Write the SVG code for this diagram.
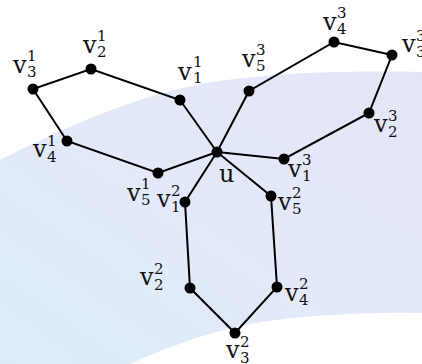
<svg xmlns="http://www.w3.org/2000/svg" width="422" height="364" viewBox="0 0 422 364">
  <defs>
    <linearGradient id="bandFill" x1="0" y1="1" x2="1" y2="0">
      <stop offset="0" stop-color="#dcedfa"/>
      <stop offset="0.5" stop-color="#e3e9f9"/>
      <stop offset="1" stop-color="#e4e6f8"/>
    </linearGradient>
    <style>
      .edge { stroke: #000; stroke-width: 2; fill: none; stroke-linecap: round; }
      .dot { fill: #000; }
      .lbl { font-family: "DejaVu Serif", "Liberation Serif", serif; font-size: 24px; fill: #111; }
      .i { font-size: 15px; }
    </style>
  </defs>

  <!-- page background and soft band -->
  <rect width="422" height="364" fill="#ffffff"/>
  <path d="M0,160 C40,140 120,100 200,84 C260,74 330,70 422,72 L422,313 C360,312 290,316 240,326 C200,335 160,350 130,364 L0,364 Z" fill="url(#bandFill)"/>

  <!-- connectors -->
  <g id="edges">
    <!-- first cycle through u -->
    <polyline class="edge" points="217,152 180,100 91,69 33,89 67,141 158,173 217,152"/>
    <!-- second cycle through u -->
    <polyline class="edge" points="217,152 185,202 190,288 235,333 277,287 271,196 217,152"/>
    <!-- third cycle through u -->
    <polyline class="edge" points="217,152 284,159 369,113 392,55 334,42 249,91 217,152"/>
  </g>

  <!-- centre vertex -->
  <g id="u">
    <circle class="dot" cx="217" cy="152" r="5.5"/>
    <text class="lbl" x="219" y="182">u</text>
  </g>

  <!-- cycle 1 -->
  <g id="v1_1">
    <circle class="dot" cx="180" cy="100" r="5.5"/>
    <text class="lbl"><tspan x="178" y="80">v</tspan><tspan class="i" x="193" y="67">1</tspan><tspan class="i" x="193" y="83">1</tspan></text>
  </g>
  <g id="v2_1">
    <circle class="dot" cx="91" cy="69" r="5.5"/>
    <text class="lbl"><tspan x="83" y="53">v</tspan><tspan class="i" x="97" y="41">1</tspan><tspan class="i" x="97" y="57">2</tspan></text>
  </g>
  <g id="v3_1">
    <circle class="dot" cx="33" cy="89" r="5.5"/>
    <text class="lbl"><tspan x="13" y="73">v</tspan><tspan class="i" x="27" y="61">1</tspan><tspan class="i" x="27" y="77">3</tspan></text>
  </g>
  <g id="v4_1">
    <circle class="dot" cx="67" cy="141" r="5.5"/>
    <text class="lbl"><tspan x="33" y="157">v</tspan><tspan class="i" x="47" y="146">1</tspan><tspan class="i" x="47" y="162">4</tspan></text>
  </g>
  <g id="v5_1">
    <circle class="dot" cx="158" cy="173" r="5.5"/>
    <text class="lbl"><tspan x="127" y="201">v</tspan><tspan class="i" x="141" y="189">1</tspan><tspan class="i" x="141" y="205">5</tspan></text>
  </g>

  <!-- cycle 2 -->
  <g id="v1_2">
    <circle class="dot" cx="185" cy="202" r="5.5"/>
    <text class="lbl"><tspan x="157" y="207">v</tspan><tspan class="i" x="171" y="196">2</tspan><tspan class="i" x="171" y="212">1</tspan></text>
  </g>
  <g id="v2_2">
    <circle class="dot" cx="190" cy="288" r="5.5"/>
    <text class="lbl"><tspan x="140" y="285">v</tspan><tspan class="i" x="154" y="274">2</tspan><tspan class="i" x="154" y="290">2</tspan></text>
  </g>
  <g id="v3_2">
    <circle class="dot" cx="235" cy="333" r="5.5"/>
    <text class="lbl"><tspan x="226" y="358">v</tspan><tspan class="i" x="240" y="347">2</tspan><tspan class="i" x="240" y="363">3</tspan></text>
  </g>
  <g id="v4_2">
    <circle class="dot" cx="277" cy="287" r="5.5"/>
    <text class="lbl"><tspan x="285" y="301">v</tspan><tspan class="i" x="299" y="289">2</tspan><tspan class="i" x="299" y="305">4</tspan></text>
  </g>
  <g id="v5_2">
    <circle class="dot" cx="271" cy="196" r="5.5"/>
    <text class="lbl"><tspan x="278" y="210">v</tspan><tspan class="i" x="292" y="198">2</tspan><tspan class="i" x="292" y="214">5</tspan></text>
  </g>

  <!-- cycle 3 -->
  <g id="v1_3">
    <circle class="dot" cx="284" cy="159" r="5.5"/>
    <text class="lbl"><tspan x="288" y="177">v</tspan><tspan class="i" x="302" y="165">3</tspan><tspan class="i" x="302" y="181">1</tspan></text>
  </g>
  <g id="v2_3">
    <circle class="dot" cx="369" cy="113" r="5.5"/>
    <text class="lbl"><tspan x="374" y="132">v</tspan><tspan class="i" x="388" y="121">3</tspan><tspan class="i" x="388" y="137">2</tspan></text>
  </g>
  <g id="v3_3">
    <circle class="dot" cx="392" cy="55" r="5.5"/>
    <text class="lbl"><tspan x="402" y="52">v</tspan><tspan class="i" x="416" y="41">3</tspan><tspan class="i" x="416" y="57">3</tspan></text>
  </g>
  <g id="v4_3">
    <circle class="dot" cx="334" cy="42" r="5.5"/>
    <text class="lbl"><tspan x="323" y="30">v</tspan><tspan class="i" x="337" y="18">3</tspan><tspan class="i" x="337" y="34">4</tspan></text>
  </g>
  <g id="v5_3">
    <circle class="dot" cx="249" cy="91" r="5.5"/>
    <text class="lbl"><tspan x="242" y="67">v</tspan><tspan class="i" x="256" y="55">3</tspan><tspan class="i" x="256" y="71">5</tspan></text>
  </g>
</svg>
